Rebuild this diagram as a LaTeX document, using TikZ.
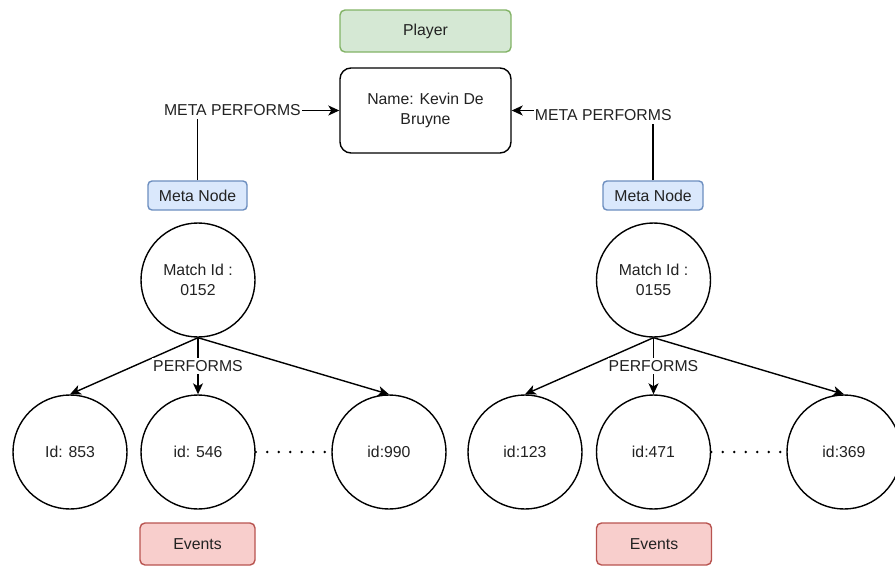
\documentclass[tikz,border=0pt]{standalone}
\usepackage{fontspec}
\setmainfont{Liberation Sans}
\usetikzlibrary{arrows.meta}
\definecolor{playerfill}{HTML}{D5E8D4}
\definecolor{playerline}{HTML}{82B366}
\definecolor{metafill}{HTML}{DAE8FC}
\definecolor{metaline}{HTML}{6C8EBF}
\definecolor{eventfill}{HTML}{F8CECC}
\definecolor{eventline}{HTML}{B85450}
\definecolor{ink}{HTML}{222222}
\tikzset{
  base/.style={line width=1.4pt, draw=black, text=ink, align=center, inner sep=0pt},
  tagbox/.style={base, rounded corners=5pt},
  playerbox/.style={tagbox, fill=playerfill, draw=playerline, minimum width=171pt, minimum height=42pt},
  metabox/.style={tagbox, fill=metafill, draw=metaline, minimum width=99pt, minimum height=29pt, rounded corners=4pt},
  eventbox/.style={tagbox, fill=eventfill, draw=eventline, minimum width=115pt, minimum height=42pt},
  namebox/.style={base, fill=white, rounded corners=11pt, minimum width=171pt, minimum height=85pt},
  rec/.style={base, circle, fill=white, minimum size=114pt},
  arr/.style={line width=1.4pt, draw=black, -{Stealth[length=11pt, width=10pt, inset=3pt]}},
  lbl/.style={fill=white, text=ink, inner xsep=1pt, inner ysep=3pt},
  dotline/.style={line width=2.8pt, line cap=round, dash pattern=on 0pt off 11.5pt}
}
\begin{document}
\begin{tikzpicture}[x=1pt, y=-1pt, font=\fontsize{15.8}{19.5}\selectfont]
\useasboundingbox (0,0) rectangle (895,566);

% player section
\node[playerbox] (player) at (425.5,31) {Player};
\node[namebox] (name) at (425.5,110.5) {Name: Kevin De\\Bruyne};

% meta nodes
\node[metabox] (meta1) at (197.5,195.5) {Meta Node};
\node[metabox, minimum width=100pt] (meta2) at (653,195.5) {Meta Node};

% matches
\node[rec] (m1) at (198,280) {Match Id :\\0152};
\node[rec] (m2) at (653.5,280) {Match Id :\\0155};

% events of match 0152
\node[rec] (a1) at (70,452) {Id: 853};
\node[rec] (a2) at (198,452) {id: 546};
\node[rec] (a3) at (389,452) {id:990};

% events of match 0155
\node[rec] (b1) at (525,452) {id:123};
\node[rec] (b2) at (653.5,452) {id:471};
\node[rec] (b3) at (844,452) {id:369};

% event labels
\node[eventbox] (ev1) at (197.5,544) {Events};
\node[eventbox] (ev2) at (654,544) {Events};

% meta edges to the player
\draw[arr] (meta1.north) |- node[lbl, pos=0.623] {META PERFORMS} (name.west);
\draw[arr] (meta2.north) |- node[lbl, pos=0.676, yshift=-5pt] {META PERFORMS} (name.east);

% match edges
\draw[arr] (m1.south) -- (a1.north);
\draw[arr] (m1.south) -- (a3.north);
\draw[arr] (m1.south) -- node[lbl, inner ysep=2pt] {PERFORMS} (a2.north);
\draw[arr] (m2.south) -- (b1.north);
\draw[arr] (m2.south) -- (b3.north);
\draw[arr] (m2.south) -- node[lbl, inner ysep=2pt] {PERFORMS} (b2.north);

% elided events
\draw[dotline] (a2.east) -- (a3.west);
\draw[dotline] (b2.east) -- (b3.west);
\end{tikzpicture}
\end{document}
